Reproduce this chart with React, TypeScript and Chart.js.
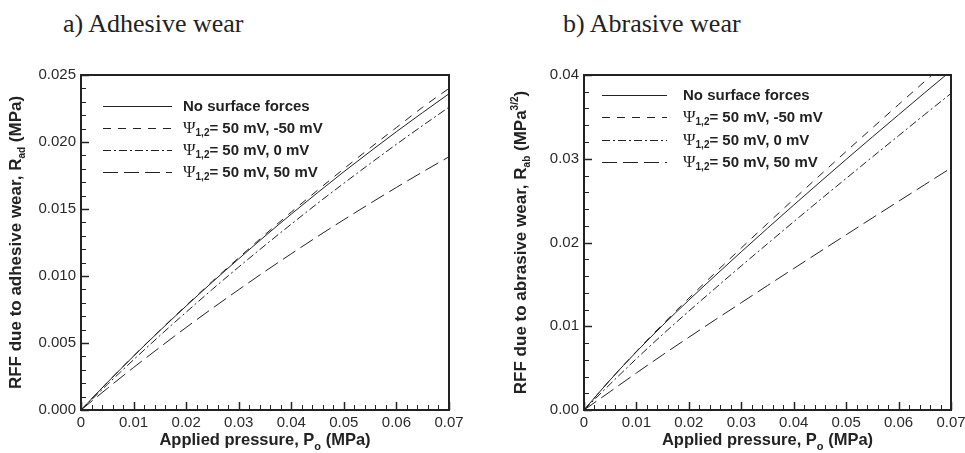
import React, { useEffect, useRef } from "react";
import { Chart, registerables } from "chart.js";

Chart.register(...registerables);

// ---------- data ----------
const pressure = [0, 0.005, 0.01, 0.015, 0.02, 0.025, 0.03, 0.035, 0.04, 0.045, 0.05, 0.055, 0.06, 0.065, 0.07];

const adhNoForces = [0, 0.00205, 0.00402, 0.00592, 0.00776, 0.00955, 0.01128, 0.01298, 0.01462, 0.01622, 0.01778, 0.01929, 0.02077, 0.0222, 0.0236];
const adhNeg50 = [0, 0.00205, 0.00403, 0.00594, 0.0078, 0.00961, 0.01136, 0.01309, 0.01477, 0.0164, 0.018, 0.01956, 0.02108, 0.0226, 0.024];
const adhZero = [0, 0.0019, 0.00375, 0.00555, 0.0073, 0.00901, 0.01067, 0.01229, 0.01387, 0.01542, 0.01692, 0.01839, 0.01983, 0.02123, 0.0226];
const adhPos50 = [0, 0.00161, 0.00317, 0.00468, 0.00616, 0.00759, 0.00898, 0.01034, 0.01166, 0.01295, 0.0142, 0.01542, 0.01661, 0.01777, 0.0189];

const abrNoForces = [0, 0.0036, 0.00695, 0.01011, 0.01312, 0.01603, 0.01889, 0.0217, 0.02447, 0.02721, 0.02992, 0.0326, 0.03525, 0.03789, 0.0405];
const abrNeg50 = [0, 0.0036, 0.007, 0.01024, 0.01335, 0.01637, 0.01934, 0.02227, 0.02516, 0.02803, 0.03087, 0.03368, 0.03647, 0.03924, 0.042];
const abrZero = [0, 0.0031, 0.00612, 0.00902, 0.0118, 0.01452, 0.01721, 0.01985, 0.02248, 0.02508, 0.02765, 0.03021, 0.03275, 0.03529, 0.0378];
const abrPos50 = [0, 0.0022, 0.00442, 0.00658, 0.00868, 0.01076, 0.01281, 0.01486, 0.01689, 0.01891, 0.02092, 0.02293, 0.02492, 0.02691, 0.0289];

const seriesLabels = ["No surface forces", "Ψ1,2= 50 mV, -50 mV", "Ψ1,2= 50 mV, 0 mV", "Ψ1,2= 50 mV, 50 mV"];
const seriesDashes = [[], [8, 7], [8, 3, 2, 3], [15, 6]];

const xMajorTicks = [0, 0.01, 0.02, 0.03, 0.04, 0.05, 0.06, 0.07];
const adhYTicks = [0, 0.005, 0.01, 0.015, 0.02, 0.025];
const abrYTicks = [0, 0.01, 0.02, 0.03, 0.04];

const panelTitles = ["a) Adhesive wear", "b) Abrasive wear"];

// ---------- styling ----------
const INK = "#222";
const SANS = "'Liberation Sans', Arial, sans-serif";
const SERIF = "'Liberation Serif', 'Times New Roman', serif";

type Part = { text: string; font: string; dy?: number };

function drawRich(ctx: CanvasRenderingContext2D, parts: Part[], x: number, y: number, align: "left" | "center") {
  let total = 0;
  const widths = parts.map((p) => {
    ctx.font = p.font;
    const w = ctx.measureText(p.text).width;
    total += w;
    return w;
  });
  let cx = align === "center" ? x - total / 2 : x;
  ctx.textAlign = "left";
  parts.forEach((p, i) => {
    ctx.font = p.font;
    ctx.fillText(p.text, cx, y + (p.dy || 0));
    cx += widths[i];
  });
}

function legendParts(label: string): Part[] {
  if (label.startsWith("Ψ1,2")) {
    return [
      { text: "Ψ", font: `17px ${SERIF}` },
      { text: "1,2", font: `bold 10px ${SANS}`, dy: 5 },
      { text: label.slice(4), font: `bold 15px ${SANS}` },
    ];
  }
  return [{ text: label, font: `bold 15px ${SANS}` }];
}

type Spec = {
  values: number[][];
  yMax: number;
  yTicks: number[];
  yMinorStep: number;
  yMajorStep: number;
  yDecimals: number;
  yAxisWidth: number;
  padRight: number;
  yTitle: Part[];
  yTitleX: number;
  legendDX: number;
  legendLen: number;
  legendGap: number;
  legendDY: number;
  legendRow: number;
  width: number;
  height: number;
};

function isMajor(v: number, step: number) {
  return Math.abs(v / step - Math.round(v / step)) < 1e-6;
}

function makeDecor(spec: Spec) {
  return {
    id: "decor",
    afterDraw(chart: any) {
      const ctx: CanvasRenderingContext2D = chart.ctx;
      const { left, right, top, bottom } = chart.chartArea;
      const xs = chart.scales.x;
      const ys = chart.scales.y;
      ctx.save();
      ctx.strokeStyle = INK;
      ctx.fillStyle = INK;

      // x ticks (inside)
      const xMinorStep = 0.002;
      const nx = Math.round(0.07 / xMinorStep);
      for (let i = 0; i <= nx; i++) {
        const v = i * xMinorStep;
        const major = isMajor(v, 0.01);
        const px = Math.round(xs.getPixelForValue(v)) + 0.5;
        ctx.lineWidth = major ? 1.5 : 1;
        ctx.beginPath();
        ctx.moveTo(px, bottom);
        ctx.lineTo(px, bottom - (major ? 8 : 5));
        ctx.stroke();
      }
      // y ticks (inside)
      const ny = Math.round(spec.yMax / spec.yMinorStep);
      for (let i = 0; i <= ny; i++) {
        const v = i * spec.yMinorStep;
        const major = isMajor(v, spec.yMajorStep);
        const py = Math.round(ys.getPixelForValue(v)) + 0.5;
        ctx.lineWidth = major ? 1.5 : 1;
        ctx.beginPath();
        ctx.moveTo(left, py);
        ctx.lineTo(left + (major ? 8 : 5), py);
        ctx.stroke();
      }

      // frame
      ctx.lineWidth = 2;
      ctx.strokeRect(left, top, right - left, bottom - top);

      // legend
      ctx.textBaseline = "middle";
      seriesLabels.forEach((label, i) => {
        const y = Math.round(top + spec.legendDY + i * spec.legendRow) + 0.5;
        const x0 = left + spec.legendDX;
        ctx.lineWidth = 1;
        ctx.setLineDash(seriesDashes[i]);
        ctx.beginPath();
        ctx.moveTo(x0, y);
        ctx.lineTo(x0 + spec.legendLen, y);
        ctx.stroke();
        ctx.setLineDash([]);
        drawRich(ctx, legendParts(label), x0 + spec.legendLen + spec.legendGap, y, "left");
      });

      // x title
      ctx.textBaseline = "alphabetic";
      drawRich(
        ctx,
        [
          { text: "Applied pressure, P", font: `bold 16.5px ${SANS}` },
          { text: "o", font: `bold 11px ${SANS}`, dy: 5 },
          { text: " (MPa)", font: `bold 16.5px ${SANS}` },
        ],
        (left + right) / 2,
        405,
        "center"
      );

      // y title (rotated)
      ctx.translate(spec.yTitleX, (top + bottom) / 2);
      ctx.rotate(-Math.PI / 2);
      drawRich(ctx, spec.yTitle, 0, 6, "center");

      ctx.restore();
    },
  };
}

function buildConfig(spec: Spec): any {
  const tickFont = { family: SANS, size: 15 };
  return {
    type: "line",
    data: {
      datasets: spec.values.map((vals, i) => ({
        label: seriesLabels[i],
        data: pressure.map((x, j) => ({ x, y: vals[j] })),
        borderColor: INK,
        borderWidth: 1,
        borderDash: seriesDashes[i],
        pointRadius: 0,
        fill: false,
        cubicInterpolationMode: "monotone",
      })),
    },
    options: {
      responsive: false,
      animation: false,
      devicePixelRatio: 1,
      layout: { padding: { top: 35, right: spec.padRight, left: 0, bottom: 0 } },
      plugins: { legend: { display: false }, tooltip: { enabled: false } },
      scales: {
        x: {
          type: "linear",
          min: 0,
          max: 0.07,
          grid: { display: false, drawTicks: false },
          border: { display: false },
          ticks: {
            font: tickFont,
            color: "#2a2a2a",
            padding: 4,
            maxRotation: 0,
            autoSkip: false,
            callback: (v: number) => (v === 0 ? "0" : v.toFixed(2)),
          },
          afterBuildTicks: (s: any) => {
            s.ticks = xMajorTicks.map((value) => ({ value }));
          },
          afterFit: (s: any) => {
            s.height = 43;
            s.paddingLeft = 0;
            s.paddingRight = 0;
          },
        },
        y: {
          type: "linear",
          min: 0,
          max: spec.yMax,
          grid: { display: false, drawTicks: false },
          border: { display: false },
          ticks: {
            font: tickFont,
            color: "#2a2a2a",
            padding: 5,
            autoSkip: false,
            callback: (v: number) => v.toFixed(spec.yDecimals),
          },
          afterBuildTicks: (s: any) => {
            s.ticks = spec.yTicks.map((value) => ({ value }));
          },
          afterFit: (s: any) => {
            s.width = spec.yAxisWidth;
            s.paddingTop = 0;
            s.paddingBottom = 0;
          },
        },
      },
    },
    plugins: [makeDecor(spec)],
  };
}

function WearChart({ spec, left, top }: { spec: Spec; left: number; top: number }) {
  const ref = useRef<HTMLCanvasElement>(null);
  useEffect(() => {
    const chart = new Chart(ref.current as HTMLCanvasElement, buildConfig(spec));
    return () => chart.destroy();
  }, []);
  return (
    <canvas
      ref={ref}
      width={spec.width}
      height={spec.height}
      style={{ position: "absolute", left, top, width: spec.width, height: spec.height }}
    />
  );
}

const adhSpec: Spec = {
  values: [adhNoForces, adhNeg50, adhZero, adhPos50],
  yMax: 0.025,
  yTicks: adhYTicks,
  yMinorStep: 0.001,
  yMajorStep: 0.005,
  yDecimals: 3,
  yAxisWidth: 81,
  padRight: 31,
  yTitle: [
    { text: "RFF due to adhesive wear, R", font: `bold 17px ${SANS}` },
    { text: "ad", font: `bold 10px ${SANS}`, dy: 4 },
    { text: " (MPa)", font: `bold 17px ${SANS}` },
  ],
  yTitleX: 15,
  legendDX: 22,
  legendLen: 69,
  legendGap: 11,
  legendDY: 31,
  legendRow: 22,
  width: 480,
  height: 413,
};

const abrSpec: Spec = {
  values: [abrNoForces, abrNeg50, abrZero, abrPos50],
  yMax: 0.04,
  yTicks: abrYTicks,
  yMinorStep: 0.002,
  yMajorStep: 0.01,
  yDecimals: 2,
  yAxisWidth: 104,
  padRight: 14,
  yTitle: [
    { text: "RFF due to abrasive wear, R", font: `bold 17px ${SANS}` },
    { text: "ab", font: `bold 10px ${SANS}`, dy: 4 },
    { text: " (MPa", font: `bold 17px ${SANS}` },
    { text: "3/2", font: `bold 10px ${SANS}`, dy: -8 },
    { text: ")", font: `bold 17px ${SANS}` },
  ],
  yTitleX: 40,
  legendDX: 18,
  legendLen: 65,
  legendGap: 16,
  legendDY: 20,
  legendRow: 22.3,
  width: 485,
  height: 413,
};

export default function App() {
  const titleStyle: React.CSSProperties = {
    position: "absolute",
    top: 11,
    fontFamily: SERIF,
    fontSize: 26,
    lineHeight: 1,
    color: INK,
    whiteSpace: "nowrap",
    margin: 0,
  };
  return (
    <div style={{ position: "absolute", left: 0, top: 0, width: 965, height: 453, background: "#fff", overflow: "hidden" }}>
      <div style={{ ...titleStyle, left: 63 }}>{panelTitles[0]}</div>
      <div style={{ ...titleStyle, left: 563 }}>{panelTitles[1]}</div>
      <WearChart spec={adhSpec} left={0} top={40} />
      <WearChart spec={abrSpec} left={480} top={40} />
    </div>
  );
}
